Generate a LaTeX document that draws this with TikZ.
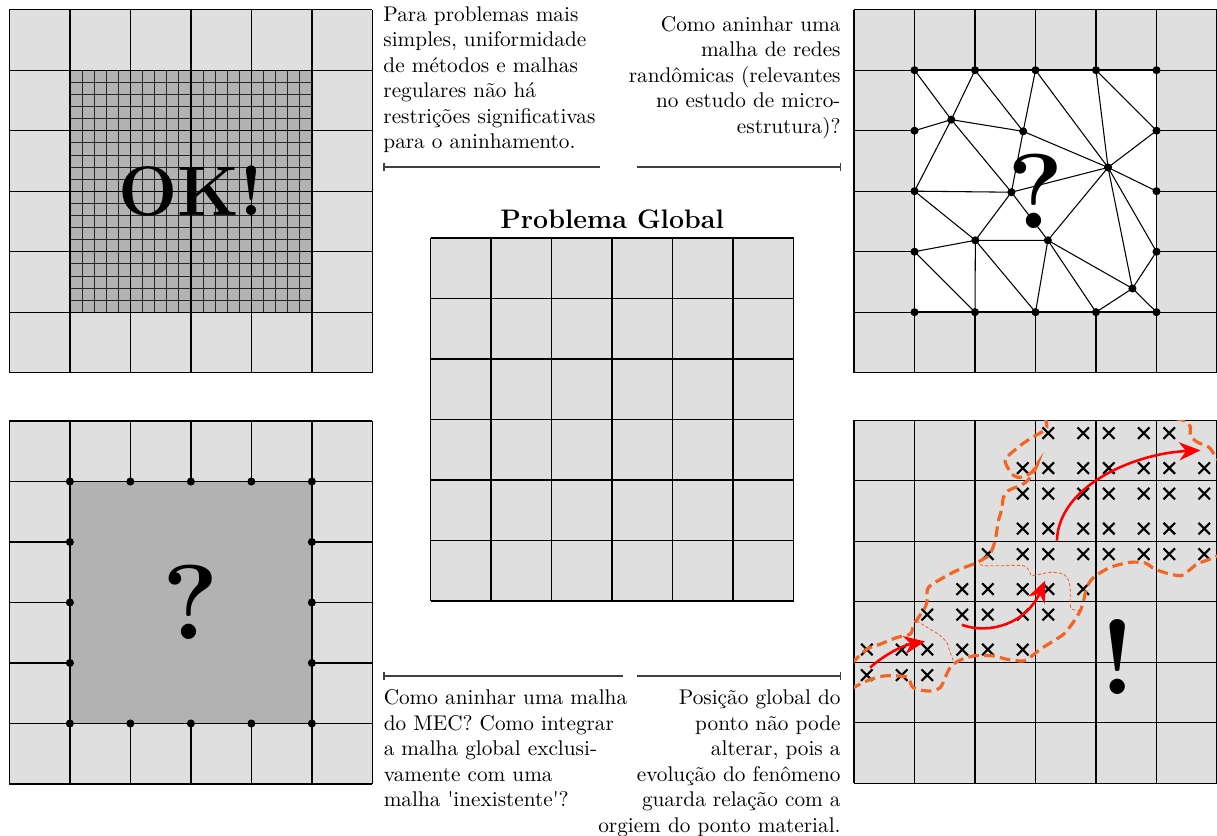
\documentclass[tikz,border=0pt]{standalone}
\usepackage{fontspec}
\newfontfamily\rawquotefont{lmroman10-regular.otf}[Ligatures=TeXOff]
\usetikzlibrary{arrows.meta}
\definecolor{bandorange}{RGB}{242,101,34}
\begin{document}
\begin{tikzpicture}[
  gridline/.style={draw=black, line width=0.6pt},
  fineline/.style={draw=black!85, line width=0.35pt},
  lightfill/.style={fill=gray!25},
  darkfill/.style={fill=gray!60},
  bordersq/.style={draw=black, line width=0.85pt},
  meshedge/.style={draw=black, line width=0.5pt},
  meshdot/.style={fill=black},
  bigglyph/.style={inner sep=0pt, font=\fontsize{50}{60}\selectfont\bfseries},
  okglyph/.style={inner sep=0pt, font=\fontsize{33}{40}\selectfont\bfseries},
  textblock/.style={inner sep=0pt, font=\normalsize},
  barline/.style={draw=black!75, line width=0.7pt},
  crossline/.style={draw=black, line width=1pt},
  band/.style={draw=bandorange, line width=1.5pt, dash pattern=on 5pt off 2.5pt},
  thinband/.style={draw=bandorange, line width=0.4pt, dash pattern=on 1.5pt off 1pt},
  redarrow/.style={draw=red, line width=1.2pt, -{Stealth[length=3.5mm,width=3mm]}},
  xmark/.pic={\draw[crossline] (-0.095,-0.095) -- (0.095,0.095) (-0.095,0.095) -- (0.095,-0.095);}
]
\useasboundingbox (0,0) rectangle (20.116,-13.818);

% ---------------- top-left panel ----------------
\begin{scope}[shift={(0.155,-6.160)}]
  \fill[lightfill] (0,0) rectangle (6,6);
  \fill[darkfill] (1,1) rectangle (5,5);
  \foreach \k in {1,...,19} {
    \draw[fineline] ({1+0.2*\k},1) -- ({1+0.2*\k},5);
    \draw[fineline] (1,{1+0.2*\k}) -- (5,{1+0.2*\k});
  }
  \draw[gridline] (0,0) grid (6,6);
  \node[okglyph] (ok) at (3,3) {OK!};
\end{scope}

% ---------------- bottom-left panel ----------------
\begin{scope}[shift={(0.155,-12.959)}]
  \fill[lightfill] (0,0) rectangle (6,6);
  \draw[gridline] (0,0) grid (6,6);
  \fill[darkfill] (1,1) rectangle (5,5);
  \draw[bordersq] (1,1) rectangle (5,5);
  \foreach \i in {1,...,5} {
    \fill[meshdot] (\i,1) circle (1.9pt);
    \fill[meshdot] (\i,5) circle (1.9pt);
  }
  \foreach \j in {2,...,4} {
    \fill[meshdot] (1,\j) circle (1.9pt);
    \fill[meshdot] (5,\j) circle (1.9pt);
  }
  \node[bigglyph] (qbl) at (3,3) {?};
\end{scope}

% ---------------- center panel ----------------
\begin{scope}[shift={(7.118,-9.934)}]
  \fill[lightfill] (0,0) rectangle (6,6);
  \draw[gridline] (0,0) grid (6,6);
\end{scope}
\node[anchor=base, inner sep=0pt, font=\fontsize{12.6}{15}\selectfont\bfseries] (title) at (10.118,-3.774) {Problema Global};

% ---------------- top-right panel ----------------
\begin{scope}[shift={(14.116,-6.160)}]
  \fill[lightfill] (0,0) rectangle (6,6);
  \draw[gridline] (0,0) grid (6,6);
  \fill[white] (1,1) rectangle (5,5);
  \foreach \i in {1,...,5} \foreach \j in {1,...,5} \coordinate (q\i\j) at (\i,\j);
  \coordinate (mA) at (1.608,4.182);
  \coordinate (mB) at (2.796,3.989);
  \coordinate (mC) at (4.199,3.392);
  \coordinate (mD) at (2.602,2.983);
  \coordinate (mE) at (2.006,2.188);
  \coordinate (mF) at (3.204,2.188);
  \coordinate (mG) at (4.602,1.392);
  \draw[meshedge] (q15) -- (mA) (q25) -- (mA) (q25) -- (mB) (q35) -- (mB)
    (q35) -- (mC) (q45) -- (mC) (q45) -- (q54) (q54) -- (mC) (q53) -- (mC)
    (q52) -- (mC) (mC) -- (mG) (mG) -- (q52) (mG) -- (q51) (mG) -- (q41)
    (mG) -- (mF) (mF) -- (mC) (mF) -- (q41) (mF) -- (q31) (mF) -- (mE)
    (mF) -- (mD) (mE) -- (mD) (mE) -- (q21) (mE) -- (q31) (mE) -- (q12)
    (mE) -- (q13) (q12) -- (q21) (mD) -- (q13) (mD) -- (mA) (mD) -- (mC)
    (mA) -- (q14) (mA) -- (q13) (mA) -- (mB) (mB) -- (mC) (mB) -- (mD);
  \draw[bordersq] (1,1) rectangle (5,5);
  \foreach \i in {1,...,5} {
    \fill[meshdot] (\i,1) circle (1.9pt);
    \fill[meshdot] (\i,5) circle (1.9pt);
  }
  \foreach \j in {2,...,4} {
    \fill[meshdot] (1,\j) circle (1.9pt);
    \fill[meshdot] (5,\j) circle (1.9pt);
  }
  \foreach \p in {mA,mB,mC,mD,mE,mF,mG} \fill[meshdot] (\p) circle (1.9pt);
  \node[bigglyph] (qtr) at (3,3) {?};
\end{scope}

% ---------------- bottom-right panel ----------------
\begin{scope}[shift={(14.116,-12.947)}]
  \fill[lightfill] (0,0) rectangle (6,6);
  \draw[gridline] (0,0) grid (6,6);
  \foreach \r/\a/\b in {0/6/10, 1/5/11, 2/5/11, 3/5/11, 4/4/11, 5/3/7, 6/2/6, 7/0/5, 8/0/2} {
    \foreach \c in {\a,...,\b} {
      \pgfmathsetmacro\xx{int(\c/2)+0.211+0.578*mod(\c,2)}
      \pgfmathsetmacro\yy{6-(int(\r/2)+0.211+0.578*mod(\r,2))}
      \pic at (\xx,\yy) {xmark};
    }
  }
  \begin{scope}
    \clip (0,0) rectangle (6,6);
    \draw[band] plot[smooth] coordinates {(3.16,6.05) (3.188,5.89) (3.105,5.807) (2.912,5.696) (2.719,5.558) (2.499,5.337) (2.637,5.088) (2.774,5.061) (2.94,5.144) (3.034,5.282) (2.94,5.088) (2.802,4.95) (2.554,4.84) (2.471,4.729) (2.443,4.536) (2.388,4.343) (2.361,4.177) (2.333,4.011) (2.25,3.79) (2.14,3.707) (1.975,3.624) (1.754,3.541) (1.533,3.431) (1.23,3.238) (1.213,3.044) (1.175,2.906) (1.065,2.74) (0.982,2.602) (0.927,2.464) (0.706,2.409) (0.43,2.298) (0.21,2.215) (-0.05,1.97)};
    \draw[band] plot[smooth] coordinates {(-0.05,1.56) (0.21,1.691) (0.485,1.773) (0.761,1.773) (0.899,1.746) (0.954,1.608) (1.037,1.552) (1.258,1.525) (1.423,1.58) (1.506,1.746) (1.589,1.912) (1.726,2.022) (1.975,2.105) (2.306,2.105) (2.526,2.05) (2.802,2.022) (2.94,2.105) (3.078,2.215) (3.298,2.354) (3.464,2.464) (3.602,2.63) (3.74,2.851) (3.795,3.017) (3.85,3.238) (3.96,3.403) (4.236,3.569) (4.567,3.652) (4.815,3.641) (4.926,3.569) (5.119,3.486) (5.394,3.431) (5.532,3.514) (5.67,3.624) (5.891,3.707) (6.05,3.78)};
    \draw[band] plot[smooth] coordinates {(5.3,6.03) (5.477,5.989) (5.56,5.89) (5.56,5.751) (5.67,5.641) (5.863,5.558) (5.946,5.448) (6.05,5.30)};
    \draw[thinband] plot[smooth] coordinates {(1.037,2.685) (1.258,2.547) (1.395,2.464) (1.533,2.326) (1.589,2.16) (1.644,2.022)};
    \draw[thinband] plot[smooth] coordinates {(2.085,3.624) (2.14,3.596) (2.416,3.596) (2.802,3.596) (2.912,3.486) (2.94,3.431) (3.243,3.486) (3.464,3.458) (3.547,3.348) (3.574,3.182) (3.574,2.961) (3.602,2.878) (3.74,2.851)};
  \end{scope}
  \coordinate (a1s) at (0.265,1.912);
  \coordinate (a1e) at (1.175,2.343);
  \coordinate (a2s) at (1.782,2.619);
  \coordinate (a2e) at (3.16,3.348);
  \coordinate (a3s) at (3.354,4.011);
  \coordinate (a3e) at (5.725,5.503);
  \draw[redarrow] (a1s) .. controls (0.5,2.12) and (0.8,2.28) .. (a1e);
  \draw[redarrow] (a2s) .. controls (2.25,2.45) and (2.85,2.65) .. (a2e);
  \draw[redarrow] (a3s) .. controls (3.38,4.9) and (4.6,5.45) .. (a3e);
  \node[bigglyph] (excl) at (4.36,2.09) {!};
\end{scope}

% ---------------- texts ----------------
\node[textblock, anchor=north west, align=left] (tltext) at (6.331,-0.10)
  {Para problemas mais\\simples, uniformidade\\de métodos e malhas\\regulares não há\\restrições significativas\\para o aninhamento.};
\node[textblock, anchor=north east, align=right] (trtext) at (13.901,-0.26)
  {Como aninhar uma\\malha de redes\\randômicas (relevantes\\no estudo de micro-\\estrutura)?};
\node[textblock, anchor=north west, align=left] (bltext) at (6.336,-11.397)
  {Como aninhar uma malha\\do MEC? Como integrar\\a malha global exclusi-\\vamente com uma\\malha {\rawquotefont'}inexistente{\rawquotefont'}?};
\node[textblock, anchor=north east, align=right] (brtext) at (13.901,-11.397)
  {Posição global do\\ponto não pode\\alterar, pois a\\evolução do fenômeno\\guarda relação com a\\orgiem do ponto material.};

% ---------------- bar lines ----------------
\coordinate (b1s) at (6.331,-2.76);
\coordinate (b1e) at (9.917,-2.76);
\coordinate (b2s) at (10.529,-2.76);
\coordinate (b2e) at (13.901,-2.76);
\coordinate (b3s) at (6.331,-11.174);
\coordinate (b3e) at (10.298,-11.174);
\coordinate (b4s) at (10.529,-11.174);
\coordinate (b4e) at (13.901,-11.174);
\draw[barline, {Bar[width=4pt]}-] (b1s) -- (b1e);
\draw[barline, -{Bar[width=4pt]}] (b2s) -- (b2e);
\draw[barline, {Bar[width=4pt]}-] (b3s) -- (b3e);
\draw[barline, -{Bar[width=4pt]}] (b4s) -- (b4e);
\end{tikzpicture}
\end{document}
